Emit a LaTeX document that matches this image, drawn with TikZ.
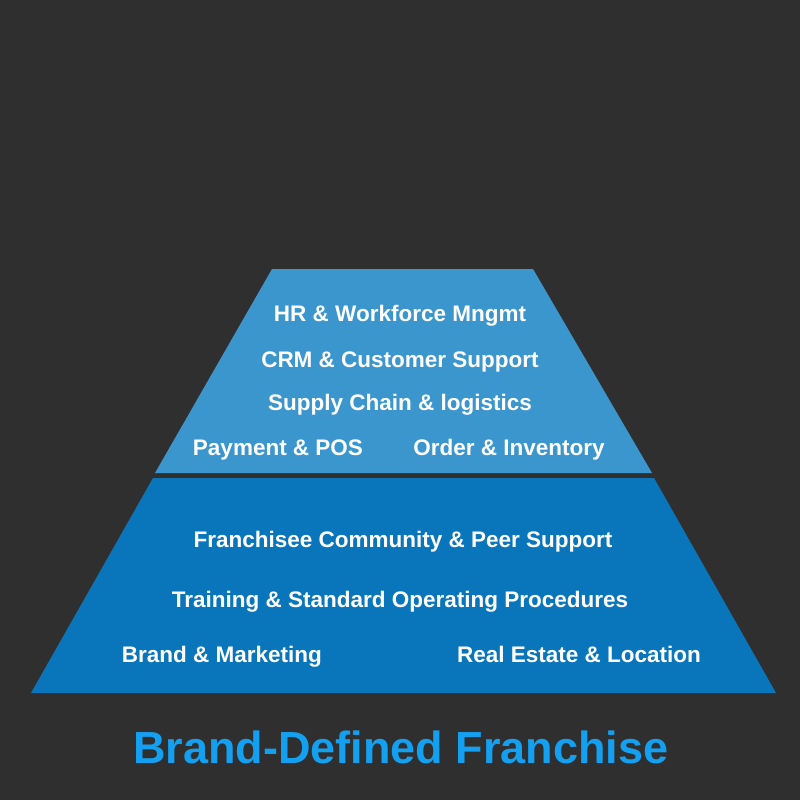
\documentclass[tikz,border=0pt]{standalone}
\usepackage{fontspec}
\setmainfont{Liberation Sans}
\definecolor{bgdark}{RGB}{47,47,47}
\definecolor{toptier}{RGB}{58,150,205}
\definecolor{basetier}{RGB}{9,118,188}
\definecolor{titleblue}{RGB}{20,160,240}
\tikzset{
  lbl/.style={text=white, font=\fontsize{22.5}{26}\selectfont\bfseries, inner sep=0pt, anchor=base},
  ttl/.style={text=titleblue, font=\fontsize{45}{52}\selectfont\bfseries, inner sep=0pt, anchor=base}
}
\begin{document}
\begin{tikzpicture}[x=1pt,y=-1pt]
\fill[bgdark] (0,0) rectangle (800,800);
\useasboundingbox (0,0) rectangle (800,800);
\fill[toptier] (272,269) -- (533,269) -- (652,473) -- (155,473) -- cycle;
\fill[basetier] (153,478) -- (654,478) -- (776,693) -- (31,693) -- cycle;
\node[lbl] (hr) at (400,321) {HR \& Workforce Mngmt};
\node[lbl] (crm) at (400,367) {CRM \& Customer Support};
\node[lbl] (sc) at (400,410) {Supply Chain \& logistics};
\node[lbl] (pay) at (278,455) {Payment \& POS};
\node[lbl] (ord) at (509,455) {Order \& Inventory};
\node[lbl] (fc) at (403,547) {Franchisee Community \& Peer Support};
\node[lbl] (tr) at (400,607) {Training \& Standard Operating Procedures};
\node[lbl] (bm) at (222,662) {Brand \& Marketing};
\node[lbl] (re) at (579,662) {Real Estate \& Location};
\node[ttl] (title) at (401,763) {Brand-Defined Franchise};
\end{tikzpicture}
\end{document}
